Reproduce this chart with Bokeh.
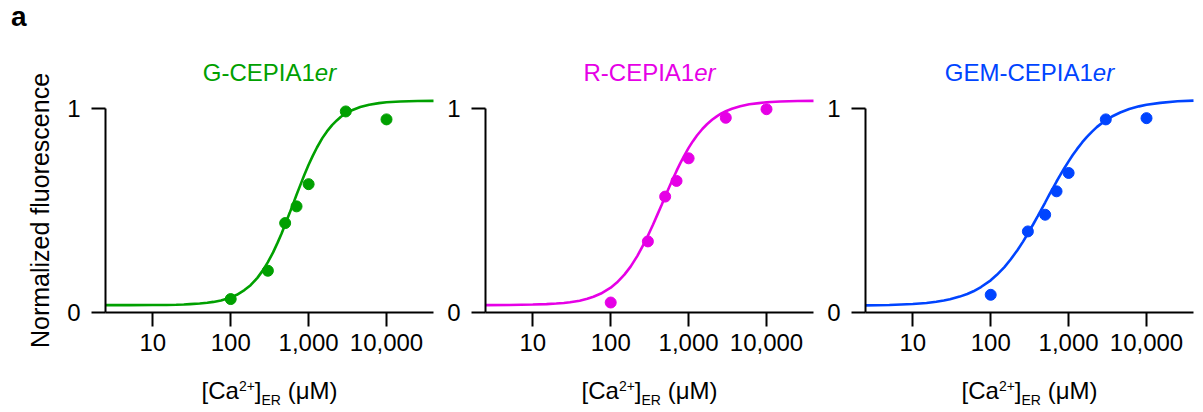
import math
from bokeh.plotting import figure
from bokeh.layouts import row
from bokeh.models import Range1d, FixedTicker, Label
from bokeh.embed import file_html
from bokeh.resources import INLINE

FONT = "Liberation Sans"

# ---- data ----
conc = [100, 300, 500, 700, 1000, 3000, 10000]
g_pts = [0.066, 0.205, 0.439, 0.521, 0.630, 0.987, 0.948]
r_pts = [0.049, 0.349, 0.569, 0.646, 0.757, 0.956, 0.998]
b_pts = [0.087, 0.398, 0.480, 0.595, 0.685, 0.948, 0.954]

# fitted curves, read at these concentrations
curve_x = [2.47, 5, 10, 15, 20, 25, 30, 40, 50, 60, 75, 100, 120, 150, 180, 220,
           260, 300, 350, 400, 450, 500, 570, 640, 700, 780, 880, 1000, 1130,
           1280, 1500, 1720, 2000, 2300, 2600, 3000, 3600, 4600, 6000, 8000,
           10000, 15000, 25000, 40100]
g_curve = [0.036, 0.036, 0.037, 0.037, 0.038, 0.039, 0.041, 0.044, 0.048, 0.052,
           0.059, 0.074, 0.087, 0.110, 0.134, 0.170, 0.208, 0.247, 0.295, 0.343,
           0.388, 0.432, 0.488, 0.538, 0.578, 0.624, 0.675, 0.725, 0.769, 0.810,
           0.856, 0.889, 0.920, 0.943, 0.961, 0.977, 0.993, 1.009, 1.020, 1.028,
           1.032, 1.036, 1.038, 1.039]
r_curve = [0.036, 0.037, 0.039, 0.041, 0.044, 0.047, 0.050, 0.058, 0.067, 0.077,
           0.093, 0.122, 0.147, 0.186, 0.225, 0.278, 0.329, 0.377, 0.432, 0.483,
           0.528, 0.569, 0.620, 0.663, 0.695, 0.732, 0.770, 0.808, 0.840, 0.869,
           0.901, 0.924, 0.946, 0.963, 0.976, 0.988, 1.000, 1.012, 1.022, 1.028,
           1.032, 1.036, 1.038, 1.039]
b_curve = [0.035, 0.037, 0.042, 0.047, 0.053, 0.059, 0.065, 0.078, 0.091, 0.104,
           0.125, 0.158, 0.185, 0.223, 0.260, 0.306, 0.348, 0.388, 0.432, 0.472,
           0.508, 0.540, 0.581, 0.616, 0.643, 0.674, 0.708, 0.742, 0.773, 0.802,
           0.836, 0.862, 0.888, 0.910, 0.926, 0.943, 0.962, 0.982, 0.999, 1.012,
           1.020, 1.029, 1.037, 1.040]

titles = ["G-CEPIA1", "R-CEPIA1", "GEM-CEPIA1"]
title_suffix = "er"
colors = ["#00a000", "#e600e6", "#0044ff"]
pts_list = [g_pts, r_pts, b_pts]
curves = [g_curve, r_curve, b_curve]

x_ticks = [10, 100, 1000, 10000]
x_tick_labels = ["10", "100", "1,000", "10,000"]
y_ticks = [0, 1]
y_tick_labels = ["0", "1"]
x_min, x_max = 2.47, 40100
y_label = "Normalized fluorescence"
panel_letter = "a"

# ---- layout (pixels) ----
H = 410                      # figure height
FIG_X = [(0, 440), (440, 820), (820, 1202)]   # page x extent of each figure
AXIS_X = [105, 485, 865]     # page x of each y axis
AX_W = 328                   # x axis length
Y0_PX, PX_PER_UNIT = 312, 203.7
PPD = AX_W / math.log10(x_max / x_min)
BASE_SHIFT = 0.3465          # label anchor sits this fraction of font size above baseline

# Arial/Liberation Sans advance widths (em/1000) for text layout
ADV = {"[": 278, "C": 722, "a": 556, "2": 556, "+": 584, "]": 278, "E": 667,
       "R": 722, " ": 278, "(": 333, "\u03bc": 576, "M": 833, ")": 333,
       "G": 778, "-": 333, "P": 667, "I": 278, "A": 667, "1": 556, "e": 556,
       "r": 333}


def tw(s, size):
    return sum(ADV.get(c, 556) for c in s) * size / 1000.0


def label(p, x, base_page_y, text, size, color="black", style="normal"):
    y = H - base_page_y + BASE_SHIFT * size
    p.add_layout(Label(x=x, y=y, x_units="screen", y_units="screen", text=text,
                       text_font=FONT, text_font_size=f"{size}px",
                       text_font_style=style, text_color=color,
                       text_baseline="alphabetic", text_align="left"))


def make(i):
    f0, f1 = FIG_X[i]
    W = f1 - f0
    lx0 = math.log10(x_min)
    xr = Range1d(10 ** (lx0 + (f0 - AXIS_X[i]) / PPD), 10 ** (lx0 + (f1 - AXIS_X[i]) / PPD))
    yr = Range1d((Y0_PX - H) / PX_PER_UNIT, Y0_PX / PX_PER_UNIT)
    p = figure(frame_width=W, frame_height=H, x_axis_type="log",
               x_range=xr, y_range=yr,
               toolbar_location=None, output_backend="svg", title=None,
               min_border_left=0, min_border_right=0,
               min_border_top=0, min_border_bottom=0)
    p.outline_line_color = None
    p.xgrid.grid_line_color = None
    p.ygrid.grid_line_color = None
    p.background_fill_color = "white"
    p.border_fill_color = "white"

    for ax in (p.xaxis[0], p.yaxis[0]):
        ax.axis_line_width = 2
        ax.axis_line_color = "black"
        ax.major_tick_line_width = 2
        ax.major_tick_line_color = "black"
        ax.major_tick_out = 14
        ax.major_tick_in = 0
        ax.minor_tick_line_color = None
        ax.major_label_text_font = FONT
        ax.major_label_text_font_size = "24px"
        ax.major_label_text_color = "black"

    p.xaxis.ticker = FixedTicker(ticks=x_ticks, minor_ticks=[])
    p.xaxis.major_label_overrides = {t: l for t, l in zip(x_ticks, x_tick_labels)}
    p.xaxis.major_label_standoff = 7
    p.xaxis.fixed_location = 0
    p.xaxis.bounds = (x_min, x_max)

    p.yaxis.ticker = FixedTicker(ticks=y_ticks, minor_ticks=[])
    p.yaxis.major_label_overrides = {t: l for t, l in zip(y_ticks, y_tick_labels)}
    p.yaxis.major_label_standoff = 11
    p.yaxis.fixed_location = x_min
    p.yaxis.bounds = (0, 1)

    if i == 0:
        p.yaxis.axis_label = y_label
        p.yaxis.axis_label_text_font = FONT
        p.yaxis.axis_label_text_font_size = "25px"
        p.yaxis.axis_label_text_font_style = "normal"
        p.yaxis.axis_label_text_color = "black"
        p.yaxis.axis_label_standoff = 10
        label(p, 10.5 - f0, 26, panel_letter, 28, "black", "bold")

    color = colors[i]
    p.line(curve_x, curves[i], line_width=2.6, color=color)
    p.scatter(conc, pts_list[i], size=11, color=color)

    cx_center = AXIS_X[i] + AX_W / 2 - f0

    # title with italic suffix
    tsize = 24
    total = tw(titles[i], tsize) + tw(title_suffix, tsize)
    x0 = cx_center - total / 2
    label(p, x0, 80, titles[i], tsize, color)
    label(p, x0 + tw(titles[i], tsize), 80, title_suffix, tsize, color, "italic")

    # x axis label: [Ca2+]ER (μM)
    big, small = 24, 14
    parts = [("[Ca", big, 398, 0), ("2+", small, 390, 0), ("]", big, 398, 0),
             ("ER", small, 404, 0), ("(\u03bcM)", big, 398, tw(" ", big))]
    total = sum(tw(s, sz) + gap for s, sz, _, gap in parts)
    cx = cx_center - total / 2
    for s, sz, base, gap in parts:
        cx += gap
        label(p, cx, base, s, sz)
        cx += tw(s, sz)
    return p


layout = row(make(0), make(1), make(2))
open("out.html", "w").write(file_html(layout, INLINE))
